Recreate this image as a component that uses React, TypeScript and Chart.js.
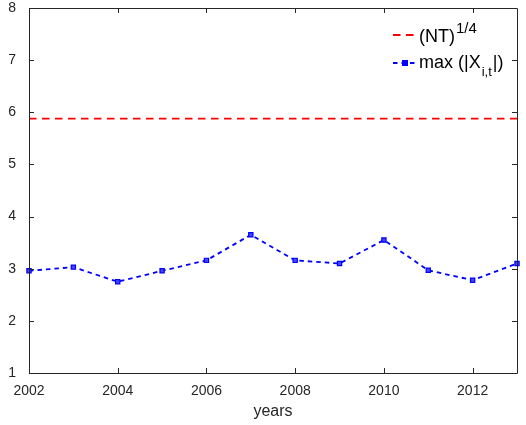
import React, { useEffect, useRef } from "react";
import { Chart, registerables } from "chart.js";

Chart.register(...registerables);

const years = [2002, 2003, 2004, 2005, 2006, 2007, 2008, 2009, 2010, 2011, 2012, 2013];
const maxAbsX = [2.96, 3.03, 2.75, 2.96, 3.16, 3.65, 3.16, 3.1, 3.55, 2.97, 2.78, 3.1];
const ntQuarter = [5.88, 5.88, 5.88, 5.88, 5.88, 5.88, 5.88, 5.88, 5.88, 5.88, 5.88, 5.88];
const xTickValues = [2002, 2004, 2006, 2008, 2010, 2012];
const yTickValues = [1, 2, 3, 4, 5, 6, 7, 8];

const FONT = "'Liberation Sans', Arial, Helvetica, sans-serif";
const AXIS = "#262626";
const RED = "rgb(255,0,0)";
const BLUE = "rgb(0,0,255)";

const boxPlugin = {
  id: "matlabBox",
  afterDatasetsDraw(chart: any) {
    const { ctx, chartArea, scales } = chart;
    const { left, right, top, bottom } = chartArea;
    ctx.save();
    ctx.strokeStyle = AXIS;
    ctx.lineWidth = 1;
    ctx.beginPath();
    ctx.rect(Math.round(left) + 0.5, Math.round(top) + 0.5, Math.round(right - left), Math.round(bottom - top));
    ctx.stroke();
    const tl = 5;
    ctx.beginPath();
    xTickValues.forEach((v) => {
      const px = Math.round(scales.x.getPixelForValue(v)) + 0.5;
      ctx.moveTo(px, bottom);
      ctx.lineTo(px, bottom - tl);
      ctx.moveTo(px, top);
      ctx.lineTo(px, top + tl);
    });
    yTickValues.forEach((v) => {
      const py = Math.round(scales.y.getPixelForValue(v)) + 0.5;
      ctx.moveTo(left, py);
      ctx.lineTo(left + tl, py);
      ctx.moveTo(right, py);
      ctx.lineTo(right - tl, py);
    });
    ctx.stroke();

    // legend
    const lx0 = 393;
    const lx1 = 416;
    const tx = 419;
    const r1 = 35;
    const r2 = 63;
    ctx.lineWidth = 1.8;
    ctx.strokeStyle = RED;
    ctx.setLineDash([7.5, 5.5]);
    ctx.beginPath();
    ctx.moveTo(lx0, r1);
    ctx.lineTo(lx1, r1);
    ctx.stroke();
    ctx.strokeStyle = BLUE;
    ctx.lineWidth = 1.8;
    ctx.setLineDash([4.5, 4]);
    ctx.beginPath();
    ctx.moveTo(lx0, r2);
    ctx.lineTo(lx1, r2);
    ctx.stroke();
    ctx.setLineDash([]);
    ctx.fillStyle = BLUE;
    ctx.fillRect(402, r2 - 3, 6, 6);

    ctx.fillStyle = "#000";
    ctx.textBaseline = "middle";
    ctx.textAlign = "left";
    ctx.font = `18px ${FONT}`;
    ctx.fillText("(NT)", tx, r1 + 2);
    let w = ctx.measureText("(NT)").width;
    ctx.font = `15px ${FONT}`;
    ctx.fillText("1/4", tx + w + 1, r1 - 6);

    ctx.font = `18px ${FONT}`;
    ctx.fillText("max (|X", tx, r2);
    w = ctx.measureText("max (|X").width;
    ctx.font = `13px ${FONT}`;
    ctx.fillText("i,t", tx + w + 1, r2 + 9);
    const w2 = ctx.measureText("i,t").width;
    ctx.font = `18px ${FONT}`;
    ctx.fillText("|)", tx + w + w2 + 2, r2);
    ctx.restore();
  },
};

export default function App() {
  const ref = useRef<HTMLCanvasElement | null>(null);
  useEffect(() => {
    if (!ref.current) return;
    const chart = new Chart(ref.current, {
      type: "line",
      data: {
        labels: years,
        datasets: [
          {
            label: "(NT)^1/4",
            data: years.map((yr, i) => ({ x: yr, y: ntQuarter[i] })),
            borderColor: RED,
            borderWidth: 1.8,
            borderDash: [7.5, 5.5],
            pointRadius: 0,
            fill: false,
            tension: 0,
            clip: false,
          },
          {
            label: "max(|X_it|)",
            data: years.map((yr, i) => ({ x: yr, y: maxAbsX[i] })),
            borderColor: BLUE,
            borderWidth: 1.8,
            borderDash: [4.5, 4],
            pointStyle: "rect",
            pointRadius: 3,
            pointBackgroundColor: "rgb(70,70,255)",
            pointBorderColor: BLUE,
            pointBorderWidth: 1.2,
            fill: false,
            tension: 0,
            clip: false,
          },
        ],
      },
      options: {
        animation: false,
        responsive: false,
        maintainAspectRatio: false,
        layout: { padding: { left: 0, right: 9, top: 8, bottom: 0 } },
        plugins: { legend: { display: false }, tooltip: { enabled: false } },
        scales: {
          x: {
            type: "linear",
            min: 2002,
            max: 2013,
            grid: { display: false },
            border: { display: false },
            afterBuildTicks: (scale: any) => {
              scale.ticks = xTickValues.map((v) => ({ value: v }));
            },
            afterFit: (scale: any) => {
              scale.height = 52;
              scale.paddingLeft = 0;
              scale.paddingRight = 0;
            },
            ticks: {
              font: { family: FONT, size: 14 },
              color: AXIS,
              padding: 2,
              maxRotation: 0,
              autoSkip: false,
              callback: (v: any) => String(v),
            },
            title: {
              display: true,
              text: "years",
              font: { family: FONT, size: 16 },
              color: AXIS,
            },
          },
          y: {
            type: "linear",
            min: 1,
            max: 8,
            grid: { display: false },
            border: { display: false },
            afterBuildTicks: (scale: any) => {
              scale.ticks = yTickValues.map((v) => ({ value: v }));
            },
            afterFit: (scale: any) => {
              scale.width = 29;
              scale.paddingTop = 0;
              scale.paddingBottom = 0;
            },
            ticks: {
              font: { family: FONT, size: 14 },
              color: AXIS,
              padding: 5,
              callback: (v: any) => String(v),
            },
          },
        },
      },
      plugins: [boxPlugin],
    });
    return () => chart.destroy();
  }, []);
  return (
    <div style={{ position: "fixed", left: 0, top: 0, width: 526, height: 425, background: "#fff" }}>
      <canvas ref={ref} width={526} height={425} style={{ width: 526, height: 425 }} />
    </div>
  );
}
